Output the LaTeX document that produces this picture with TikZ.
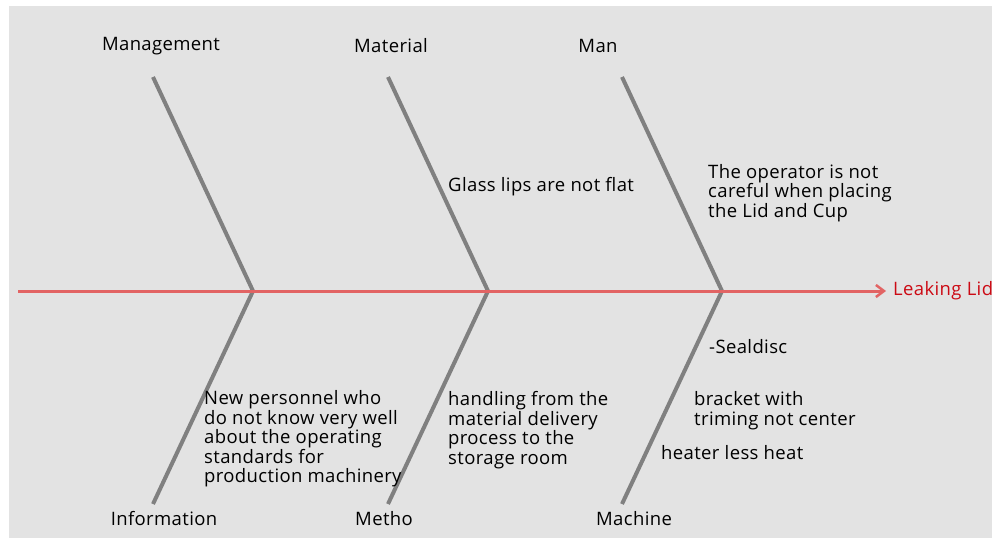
\documentclass[tikz,border=0pt]{standalone}
\usepackage{fontspec}
\setmainfont{Open Sans}[LetterSpace=2]
\usetikzlibrary{arrows.meta}

\definecolor{bggray}{RGB}{227,227,227}
\definecolor{bonegray}{RGB}{128,128,128}
\definecolor{spinered}{RGB}{226,100,100}
\definecolor{effectred}{RGB}{204,10,20}

\begin{document}
\begin{tikzpicture}[x=1pt, y=-1pt,
    font=\fontsize{18.5}{19.5}\selectfont,
    bone/.style={bonegray, line width=4pt},
    category/.style={inner sep=0pt},
    cause/.style={anchor=west, align=left, inner sep=0pt}]

  \useasboundingbox (0,0) rectangle (1003,538);
  \fill[bggray] (9,6) rectangle (992,538);

  % spine
  \coordinate (tail) at (18,291);
  \node[anchor=west, inner xsep=7pt, inner ysep=0pt, text=effectred] (effect) at (886,291) {Leaking Lid};

  % bones
  \foreach \name/\x in {mgmt/253, mat/488, man/722}{
    \coordinate (\name) at (\x,291);
    \coordinate (\name-top) at (\x-100,77);
    \coordinate (\name-bot) at (\x-100,504);
    \draw[bone] (\name-top) -- (\name);
    \draw[bone] (\name) -- (\name-bot);
  }

  \draw[spinered, line width=3pt, -{Straight Barb[length=8pt, width=12pt, line width=2.5pt]}] (tail) -- (effect.west);

  % categories
  \node[category] (management) at (161,46) {Management};
  \node[category] (material) at (391,46) {Material};
  \node[category] (manlabel) at (598,46) {Man};
  \node[category] (information) at (164,519) {Information};
  \node[category] (metho) at (384,519) {Metho};
  \node[category] (machine) at (634,519) {Machine};

  % causes
  \node[cause] (glass) at (448,187) {Glass lips are not flat};
  \node[cause] (operator) at (708,193) {The operator is not\\careful when placing\\the Lid and Cup};
  \node[cause] (sealdisc) at (709,347) {-Sealdisc};
  \node[cause] (bracket) at (694,410.5) {bracket with\\triming not center};
  \node[cause] (heater) at (661,453) {heater less heat};
  \node[cause] (personnel) at (204,439) {New personnel who\\do not know very well\\about the operating\\standards for\\production machinery};
  \node[cause] (handling) at (448,430) {handling from the\\material delivery\\process to the\\storage room};

\end{tikzpicture}
\end{document}
